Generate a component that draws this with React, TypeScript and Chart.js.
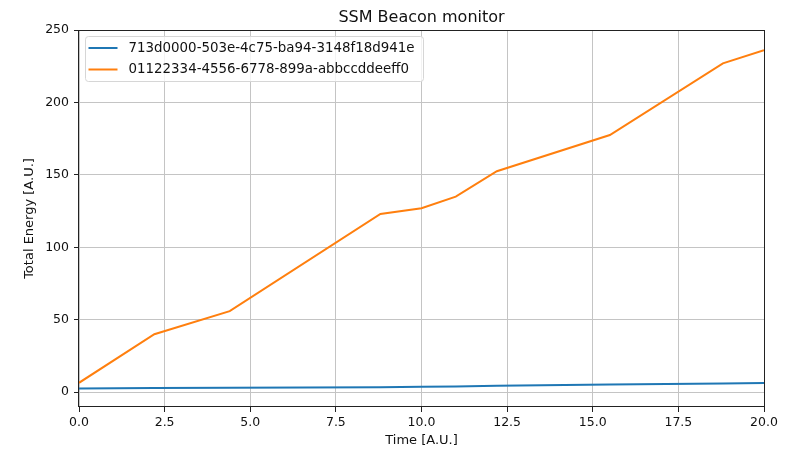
import React, { useEffect, useRef } from "react";
import { Chart, registerables } from "chart.js";

Chart.register(...registerables);

const chartTitle = "SSM Beacon monitor";
const xAxisTitle = "Time [A.U.]";
const yAxisTitle = "Total Energy [A.U.]";
const seriesLabels = [
  "713d0000-503e-4c75-ba94-3148f18d941e",
  "01122334-4556-6778-899a-abbccddeeff0",
];
const seriesColors = ["#1f77b4", "#ff7f0e"];
const timeValues = [0, 2.2, 4.4, 8.8, 10.0, 11.0, 12.2, 15.5, 18.8, 20.0];
const blueEnergy = [2.6, 2.9, 3.1, 3.5, 3.7, 4.0, 4.4, 5.3, 6.0, 6.4];
const orangeEnergy = [6.5, 40, 56, 123, 127, 135, 152.5, 177.5, 227, 236];
const xTickValues = [0, 2.5, 5, 7.5, 10, 12.5, 15, 17.5, 20];
const yTickValues = [0, 50, 100, 150, 200, 250];

const FONT = "'DejaVu Sans', sans-serif";

const overlayPlugin = {
  id: "mplOverlay",
  afterDatasetsDraw(chart: any) {
    const { ctx, chartArea } = chart;
    ctx.save();
    ctx.strokeStyle = "#222";
    ctx.lineWidth = 1;
    ctx.strokeRect(
      Math.round(chartArea.left) - 0.5,
      Math.round(chartArea.top) + 0.5,
      Math.round(chartArea.right - chartArea.left) + 1,
      Math.round(chartArea.bottom - chartArea.top) - 1
    );
    ctx.restore();
  },
  afterDraw(chart: any) {
    const { ctx, chartArea } = chart;
    ctx.save();
    // title
    ctx.fillStyle = "#111";
    ctx.font = `16px ${FONT}`;
    ctx.textAlign = "center";
    ctx.textBaseline = "alphabetic";
    ctx.fillText(chartTitle, (chartArea.left + chartArea.right) / 2, 22);

    // legend
    const bx = chartArea.left + 6.5;
    const by = chartArea.top + 6.5;
    const bw = 338;
    const bh = 45;
    ctx.beginPath();
    (ctx as any).roundRect(bx, by, bw, bh, 3);
    ctx.fillStyle = "rgba(255,255,255,0.8)";
    ctx.fill();
    ctx.strokeStyle = "#d6d6d6";
    ctx.lineWidth = 1;
    ctx.stroke();
    ctx.font = `13.4px ${FONT}`;
    ctx.textAlign = "left";
    ctx.textBaseline = "middle";
    chart.data.datasets.forEach((ds: any, i: number) => {
      const y = by + 11.5 + i * 21.5;
      ctx.strokeStyle = ds.borderColor;
      ctx.lineWidth = 2;
      ctx.beginPath();
      ctx.moveTo(bx + 3, y);
      ctx.lineTo(bx + 32, y);
      ctx.stroke();
      ctx.fillStyle = "#111";
      ctx.fillText(ds.label, bx + 43, y + 0.5);
    });
    ctx.restore();
  },
};

export default function App() {
  const ref = useRef<HTMLCanvasElement | null>(null);

  useEffect(() => {
    document.body.style.margin = "0";
    const canvas = ref.current;
    if (!canvas) return;
    const series = [blueEnergy, orangeEnergy];
    const chart = new Chart(canvas, {
      type: "line",
      data: {
        datasets: series.map((vals, i) => ({
          label: seriesLabels[i],
          data: timeValues.map((t, j) => ({ x: t, y: vals[j] })),
          borderColor: seriesColors[i],
          backgroundColor: seriesColors[i],
          borderWidth: 2,
          pointRadius: 0,
          tension: 0,
        })),
      },
      options: {
        animation: false,
        responsive: false,
        devicePixelRatio: 1,
        layout: { padding: { left: 0, top: 30, right: 30, bottom: 0 } },
        plugins: {
          legend: { display: false },
          title: { display: false },
          tooltip: { enabled: false },
        },
        scales: {
          x: {
            type: "linear",
            min: 0,
            max: 20,
            afterBuildTicks: (scale: any) => {
              scale.ticks = xTickValues.map((v) => ({ value: v }));
            },
            afterFit: (scale: any) => {
              scale.height = 43;
            },
            border: { display: false },
            grid: {
              color: "#c4c4c4",
              lineWidth: 1,
              tickColor: "#222",
              tickLength: 5,
              drawTicks: true,
            },
            ticks: {
              color: "#111",
              font: { family: FONT, size: 12.5 },
              padding: 3,
              maxRotation: 0,
              autoSkip: false,
              callback: (v: any) => Number(v).toFixed(1),
            },
            title: {
              display: true,
              text: xAxisTitle,
              color: "#111",
              font: { family: FONT, size: 13 },
              padding: { top: 0, bottom: 2 },
            },
          },
          y: {
            type: "linear",
            min: -10.2,
            max: 250,
            afterBuildTicks: (scale: any) => {
              scale.ticks = yTickValues.map((v) => ({ value: v }));
            },
            afterFit: (scale: any) => {
              scale.width = 79;
            },
            border: { display: false },
            grid: {
              color: "#c4c4c4",
              lineWidth: 1,
              tickColor: "#222",
              tickLength: 5,
              drawTicks: true,
            },
            ticks: {
              color: "#111",
              font: { family: FONT, size: 12.5 },
              padding: 5,
              autoSkip: false,
              callback: (v: any) => String(v),
            },
            title: {
              display: true,
              text: yAxisTitle,
              color: "#111",
              font: { family: FONT, size: 13 },
              padding: { top: 22, bottom: 0 },
            },
          },
        },
      },
      plugins: [overlayPlugin],
    });
    return () => chart.destroy();
  }, []);

  return (
    <div style={{ width: 794, height: 450, background: "#fff" }}>
      <canvas ref={ref} width={794} height={450} style={{ display: "block" }} />
    </div>
  );
}
